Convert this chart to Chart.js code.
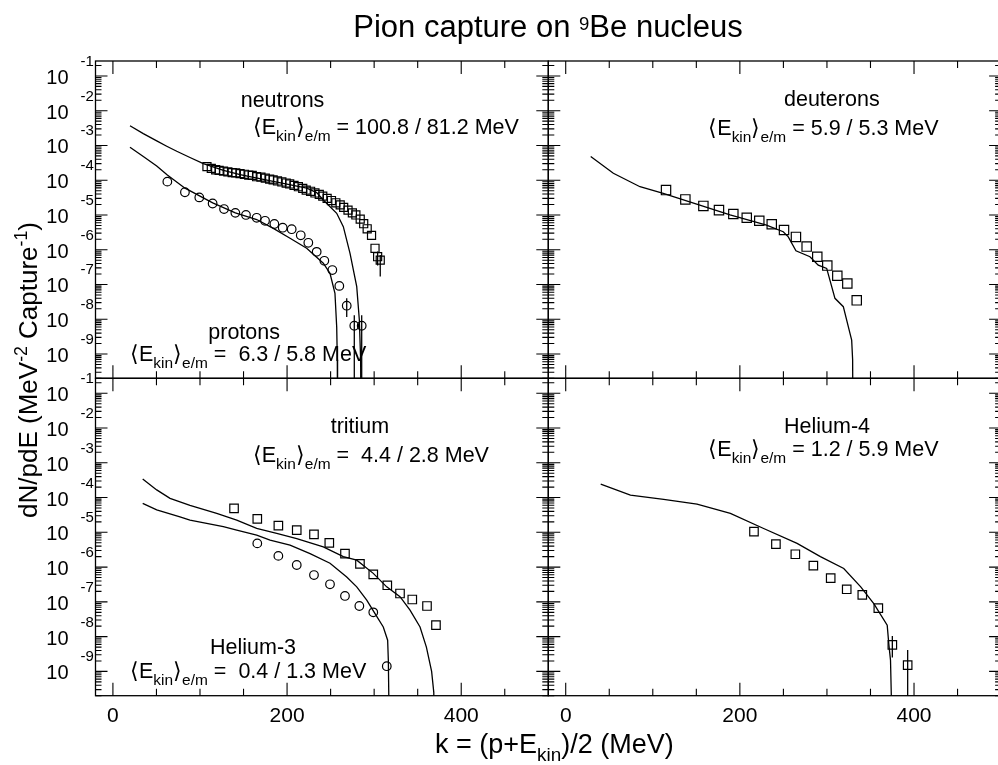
<!DOCTYPE html>
<html>
<head>
<meta charset="utf-8">
<script src="https://cdn.jsdelivr.net/npm/chart.js@4.4.1/dist/chart.umd.min.js"></script>
<style>
  html, body { margin: 0; padding: 0; overflow: hidden; background: #fff; }
  canvas { position: absolute; left: 0; top: 0; }
</style>
</head>
<body>
<canvas id="tl" width="1010" height="765"></canvas>
<canvas id="tr" width="1010" height="765"></canvas>
<canvas id="bl" width="1010" height="765"></canvas>
<canvas id="br" width="1010" height="765"></canvas>
<script>
// axis ranges and tick labels
const xMin = -20, xMax = 500;
const yMin = 2e-10, yMax = 0.269;
const xTickLabels = [0, 200, 400];
const yTickExponents = [-1, -2, -3, -4, -5, -6, -7, -8, -9];

// neutrons (top left)
const neutronSimX = [19.6, 34.9, 50.3, 61.8, 73.3, 88.5, 103.8, 127, 146, 184, 222.6, 234, 241.6, 257, 264.6, 272.3, 280, 283, 284.5, 285];
const neutronSimY = [3.7e-3, 2.19e-3, 1.35e-3, 9.5e-4, 6.8e-4, 4.5e-4, 3.0e-4, 1.91e-4, 1.45e-4, 9.3e-5, 5.9e-5, 4.4e-5, 2.7e-5, 1.12e-5, 4.6e-6, 7.9e-7, 8.7e-8, 9.5e-9, 6.8e-10, 1e-12];
const neutronDataX = [108, 113, 118, 122, 127, 132, 137, 141, 146, 151, 156, 160, 165, 170, 175, 180, 184, 189, 194, 199, 203, 208, 213, 218, 222, 227, 232, 237, 241, 246, 251, 256, 261, 265, 270, 275, 279, 284, 288, 292, 297, 301, 304, 307];
const neutronDataY = [2.45e-4, 2.19e-4, 2.0e-4, 1.91e-4, 1.82e-4, 1.74e-4, 1.66e-4, 1.62e-4, 1.55e-4, 1.48e-4, 1.41e-4, 1.38e-4, 1.26e-4, 1.23e-4, 1.15e-4, 1.07e-4, 1.02e-4, 9.5e-5, 8.9e-5, 8.3e-5, 7.8e-5, 7.1e-5, 6.5e-5, 5.8e-5, 5.2e-5, 4.8e-5, 4.3e-5, 3.9e-5, 3.5e-5, 3.0e-5, 2.6e-5, 2.24e-5, 1.95e-5, 1.66e-5, 1.38e-5, 1.15e-5, 1.0e-5, 7.6e-6, 5.6e-6, 4.0e-6, 2.6e-6, 1.1e-6, 6.3e-7, 5.0e-7];
const neutronErr = [[304, 3.5e-7, 8.9e-7], [307, 1.7e-7, 7.0e-7]];

// protons (top left)
const protonSimX = [19.6, 34.9, 50.3, 62.5, 82.8, 114.6, 140.6, 165.1, 184.2, 203.4, 222.5, 241.6, 249.3, 255, 257, 257.7, 258];
const protonSimY = [8.9e-4, 4.8e-4, 2.57e-4, 1.41e-4, 5.9e-5, 2.24e-5, 1.15e-5, 7.4e-6, 4.1e-6, 2.14e-6, 1.1e-6, 4.1e-7, 2.1e-7, 5.6e-8, 6.0e-9, 6.8e-10, 1e-12];
const protonDataX = [62.5, 82.7, 99.2, 114.5, 127.6, 140.6, 152.8, 165.1, 174.7, 185.4, 195, 205.3, 215.7, 224.4, 234, 242.8, 252, 260, 268.5, 277.2, 285.7];
const protonDataY = [9.1e-5, 4.5e-5, 3.2e-5, 2.14e-5, 1.48e-5, 1.15e-5, 1.0e-5, 8.3e-6, 6.8e-6, 5.5e-6, 4.3e-6, 3.9e-6, 2.6e-6, 1.58e-6, 8.7e-7, 4.8e-7, 2.6e-7, 9.1e-8, 2.45e-8, 6.5e-9, 6.5e-9];
const protonErr = [[268.5, 1.17e-8, 4.0e-8], [277.2, 1e-12, 1.3e-8], [285.7, 1e-12, 1.3e-8]];

// deuterons (top right)
const deuteronSimX = [28.7, 54.7, 85.3, 112, 150.4, 188.7, 230.6, 249.8, 255.6, 264.4, 280.5, 290, 299.7, 309.2, 318.8, 324.6, 328.4, 329.5, 330];
const deuteronSimY = [4.8e-4, 1.58e-4, 6.5e-5, 4.2e-5, 2.04e-5, 1.0e-5, 5.1e-6, 3.3e-6, 2.34e-6, 9.3e-7, 6.3e-7, 3.6e-7, 2.9e-7, 4.0e-8, 2.3e-8, 6.0e-9, 2.5e-9, 6.8e-10, 1e-12];
const deuteronDataX = [115.2, 137.4, 158.1, 176, 192.5, 207.9, 222.3, 236.6, 250.7, 264.4, 276.7, 288.9, 300.4, 311.9, 323.4, 334.2];
const deuteronDataY = [5.2e-5, 2.8e-5, 1.82e-5, 1.38e-5, 1.07e-5, 8.3e-6, 6.8e-6, 5.4e-6, 3.7e-6, 2.34e-6, 1.23e-6, 6.3e-7, 3.5e-7, 1.78e-7, 1.07e-7, 3.5e-8];

// tritium (bottom left)
const tritonSimX = [34.2, 50.3, 65.6, 88.5, 119.2, 142.2, 165.1, 188.1, 211.1, 241.6, 264.6, 280, 299, 314.4, 329.7, 341.2, 352.7, 360, 366, 368.5, 369];
const tritonSimY = [3.4e-4, 1.66e-4, 9.5e-5, 6.0e-5, 3.5e-5, 2.24e-5, 1.29e-5, 9.3e-6, 6.6e-6, 3.8e-6, 2.0e-6, 1.58e-6, 6.6e-7, 2.7e-7, 1.41e-7, 5.8e-8, 1.9e-8, 5.0e-9, 1.0e-9, 2.5e-10, 1e-12];
const tritonDataX = [139.1, 165.8, 190, 211.1, 230.9, 248.5, 266.5, 283.7, 299, 315.1, 329.7, 343.8, 360.7, 371];
const tritonDataY = [4.9e-5, 2.45e-5, 1.55e-5, 1.15e-5, 8.7e-6, 5.0e-6, 2.45e-6, 1.23e-6, 6.2e-7, 3.0e-7, 1.74e-7, 1.17e-7, 7.6e-8, 2.14e-8];

// helium-3 (bottom left)
const he3SimX = [34.2, 50.3, 77, 88.5, 126.8, 142.2, 165.1, 180.5, 203.4, 226.4, 249.3, 268.5, 280, 291.5, 301, 310.5, 315.5, 316.3, 318];
const he3SimY = [6.8e-5, 4.4e-5, 2.8e-5, 2.24e-5, 1.45e-5, 1.15e-5, 8.3e-6, 6.0e-6, 4.3e-6, 2.45e-6, 1.29e-6, 5.2e-7, 2.7e-7, 1.12e-7, 4.6e-8, 1.9e-8, 7.9e-9, 2.1e-9, 1e-12];
const he3DataX = [165.8, 190, 211.1, 230.9, 249.3, 266.5, 283, 299, 314.5];
const he3DataY = [4.8e-6, 2.1e-6, 1.15e-6, 5.9e-7, 3.2e-7, 1.48e-7, 7.6e-8, 5.0e-8, 1.41e-9];

// helium-4 (bottom right)
const he4SimX = [40.2, 74.3, 112.5, 150.8, 189.1, 227.3, 265.7, 292.5, 319.3, 338.8, 353.8, 369.2, 371, 373, 376];
const he4SimY = [2.45e-4, 1.17e-4, 8.9e-5, 6.5e-5, 3.5e-5, 1.29e-5, 4.8e-6, 2.0e-6, 9.1e-7, 2.7e-7, 8.9e-8, 2.14e-8, 6.3e-9, 2.1e-9, 1e-12];
const he4DataX = [216.2, 241.4, 263.7, 284.4, 304.3, 322.7, 340.6, 359, 375.1, 392.7];
const he4DataY = [1.05e-5, 4.6e-6, 2.34e-6, 1.1e-6, 4.8e-7, 2.3e-7, 1.58e-7, 6.6e-8, 5.8e-9, 1.51e-9];
const he4Err = [[375.1, 2.5e-9, 1.05e-8], [392.7, 1e-12, 4.1e-9]];

const FONT = '"Liberation Sans", Arial, Helvetica, sans-serif';

function pts(xs, ys) { return xs.map((x, i) => ({ x: x, y: ys[i] })); }
function simLine(xs, ys) {
  return { data: pts(xs, ys), showLine: true, borderColor: '#000', borderWidth: 1.3, pointRadius: 0, fill: false };
}
function markers(xs, ys, style, r) {
  return { data: pts(xs, ys), showLine: false, pointStyle: style, pointRadius: r,
    pointBorderColor: '#000', pointBorderWidth: 1.2, pointBackgroundColor: 'rgba(0,0,0,0)' };
}
function errBars(list) { return list.map(e => simLine([e[0], e[0]], [e[1], e[2]])); }

// text with sub/superscripts: parts are strings or [text, 'sub'|'sup']
function richText(ctx, x, y, parts, size, align, sc, rise, drop) {
  sc = sc || 0.72; rise = rise || 0.42; drop = drop || 0.34;
  const segs = parts.map(p => typeof p === 'string' ? [p, ''] : p);
  const fs = m => (m ? size * sc : size);
  let w = 0;
  segs.forEach(s => { ctx.font = fs(s[1]) + 'px ' + FONT; w += ctx.measureText(s[0]).width; });
  let cx = align === 'center' ? x - w / 2 : x;
  segs.forEach(s => {
    ctx.font = fs(s[1]) + 'px ' + FONT;
    const dy = s[1] === 'sub' ? size * drop : s[1] === 'sup' ? -size * rise : 0;
    ctx.fillText(s[0], cx, y + dy);
    cx += ctx.measureText(s[0]).width;
  });
}
function eLine(values) { return ['\u27E8E', ['kin', 'sub'], '\u27E9', ['e/m', 'sub'], values]; }

const frame = {
  id: 'frame',
  afterDatasetsDraw(chart, args, opts) {
    const ctx = chart.ctx, a = chart.chartArea, x = chart.scales.x, y = chart.scales.y;
    ctx.save();
    ctx.strokeStyle = '#000';
    ctx.lineWidth = 1.3;
    ctx.strokeRect(a.left, a.top, a.right - a.left, a.bottom - a.top);
    ctx.lineWidth = 1.1;
    ctx.beginPath();
    for (let v = 0; v < x.max; v += 50) {
      const px = x.getPixelForValue(v);
      const len = v % 200 === 0 ? 13 : 7;
      ctx.moveTo(px, a.bottom); ctx.lineTo(px, a.bottom - len);
      ctx.moveTo(px, a.top); ctx.lineTo(px, a.top + len);
    }
    for (let e = -10; e <= 0; e++) {
      for (let k = 1; k < 10; k++) {
        const v = k * Math.pow(10, e);
        if (v < y.min || v > y.max) continue;
        const py = y.getPixelForValue(v);
        const len = k === 1 ? 12 : 6;
        ctx.moveTo(a.left, py); ctx.lineTo(a.left + len, py);
        ctx.moveTo(a.right, py); ctx.lineTo(a.right - len, py);
      }
    }
    ctx.stroke();

    ctx.fillStyle = '#000';
    ctx.textBaseline = 'alphabetic';
    if (opts.yLabels) {
      yTickExponents.forEach(e => {
        const py = y.getPixelForValue(Math.pow(10, e));
        ctx.font = '20px ' + FONT;
        ctx.textAlign = 'right';
        ctx.fillText('10', a.left - 27, py + 8);
        ctx.font = '15px ' + FONT;
        ctx.textAlign = 'left';
        ctx.fillText(String(e), a.left - 15, py - 10);
      });
    }
    if (opts.xLabels) {
      ctx.font = '21px ' + FONT;
      ctx.textAlign = 'center';
      xTickLabels.forEach(v => ctx.fillText(String(v), x.getPixelForValue(v), a.bottom + 26));
    }
    ctx.textAlign = 'left';
    (opts.texts || []).forEach(t => richText(ctx, t[0], t[1], t[2], 21.5, 'left'));

    if (opts.global) {
      richText(ctx, 548, 37, ['Pion capture on ', ['9', 'sup'], 'Be nucleus'], 31, 'center', 0.6, 0.24);
      richText(ctx, 435, 753, ['k = (p+E', ['kin', 'sub'], ')/2 (MeV)'], 27, 'left', 0.7, 0.42, 0.3);
      ctx.save();
      ctx.translate(37, 370);
      ctx.rotate(-Math.PI / 2);
      richText(ctx, 0, 0, ['dN/pdE (MeV', ['-2', 'sup'], ' Capture', ['-1', 'sup'], ')'], 26, 'center', 0.68, 0.4);
      ctx.restore();
    }
    ctx.restore();
  }
};

function makeChart(id, box, datasets, opts) {
  const cv = document.getElementById(id);
  return new Chart(cv, {
    type: 'scatter',
    data: { datasets: datasets },
    options: {
      responsive: false,
      animation: false,
      devicePixelRatio: 1,
      events: [],
      layout: { padding: { left: box[0], top: box[1], right: cv.width - box[2], bottom: cv.height - box[3] } },
      scales: {
        x: { type: 'linear', min: xMin, max: xMax, display: false },
        y: { type: 'logarithmic', min: yMin, max: yMax, display: false }
      },
      plugins: { legend: { display: false }, tooltip: { enabled: false }, frame: opts }
    },
    plugins: [frame]
  });
}

const L = 95.5, M = 548.3, R = 1001.1, T = 61, H = 378.3, B = 695.7;

makeChart('tl', [L, T, M, H], [
  simLine(neutronSimX, neutronSimY),
  simLine(protonSimX, protonSimY),
  markers(neutronDataX, neutronDataY, 'rect', 5.7),
  markers(protonDataX, protonDataY, 'circle', 4.3)
].concat(errBars(neutronErr), errBars(protonErr)), {
  yLabels: true, global: true,
  texts: [
    [240.7, 106.7, ['neutrons']],
    [252.7, 134, eLine(' = 100.8 / 81.2 MeV')],
    [208.3, 339.3, ['protons']],
    [130, 361, eLine(' =  6.3 / 5.8 MeV')]
  ]
});

makeChart('tr', [M, T, R, H], [
  simLine(deuteronSimX, deuteronSimY),
  markers(deuteronDataX, deuteronDataY, 'rect', 6.6)
], {
  texts: [
    [784, 105.7, ['deuterons']],
    [708.3, 135, eLine(' = 5.9 / 5.3 MeV')]
  ]
});

makeChart('bl', [L, H, M, B], [
  simLine(tritonSimX, tritonSimY),
  simLine(he3SimX, he3SimY),
  markers(tritonDataX, tritonDataY, 'rect', 6),
  markers(he3DataX, he3DataY, 'circle', 4.3)
], {
  yLabels: true, xLabels: true,
  texts: [
    [330.7, 433.3, ['tritium']],
    [252.7, 461.7, eLine(' =  4.4 / 2.8 MeV')],
    [210, 654, ['Helium-3']],
    [130, 678, eLine(' =  0.4 / 1.3 MeV')]
  ]
});

makeChart('br', [M, H, R, B], [
  simLine(he4SimX, he4SimY),
  markers(he4DataX, he4DataY, 'rect', 6)
].concat(errBars(he4Err)), {
  xLabels: true,
  texts: [
    [784, 433, ['Helium-4']],
    [708.3, 456, eLine(' = 1.2 / 5.9 MeV')]
  ]
});
</script>
</body>
</html>
